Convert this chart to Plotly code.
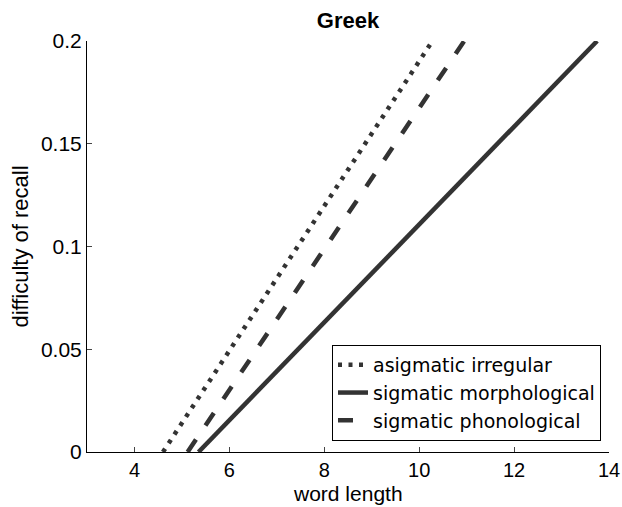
import plotly.graph_objects as go

series_names = ["asigmatic irregular", "sigmatic morphological", "sigmatic phonological"]
x_start = [4.60, 5.35, 5.12]
x_end = [10.28, 13.75, 10.95]
y_start = [0.0, 0.0, 0.0]
y_end = [0.2, 0.2, 0.2]
dashes = ["4px,6.5px", "solid", "15px,17px"]

x_ticks = [4, 6, 8, 10, 12, 14]
y_ticks = [0, 0.05, 0.1, 0.15, 0.2]
y_tick_labels = ["0", "0.05", "0.1", "0.15", "0.2"]

fig = go.Figure()
for name, xs, xe, ys, ye, d in zip(series_names, x_start, x_end, y_start, y_end, dashes):
    fig.add_trace(go.Scatter(
        x=[xs, xe], y=[ys, ye], mode="lines", name=name,
        line=dict(color="#333333", width=4.5, dash=d),
    ))

W, H = 622, 507
L, T, R, B = 87, 41, 13, 55
PW, PH = W - L - R, H - T - B
font = "Liberation Sans, Arial, Helvetica, sans-serif"
fig.update_layout(
    width=W, height=H,
    margin=dict(l=L, r=R, t=T, b=B, autoexpand=False),
    paper_bgcolor="white", plot_bgcolor="white",
    font=dict(family=font, size=22, color="black"),
    title=dict(text="<b>Greek</b>", x=0.5, xanchor="center", xref="paper",
               y=1 - 20 / H, yanchor="middle", font=dict(size=22)),
    showlegend=True,
    legend=dict(x=(601 - L) / PW, xanchor="right", y=11 / PH, yanchor="bottom",
                bordercolor="black", borderwidth=1, bgcolor="white",
                font=dict(family="DejaVu Sans", size=19), tracegroupgap=0),
    xaxis=dict(range=[3, 14], tickvals=x_ticks, ticks="inside", ticklen=5,
               showline=True, linecolor="black", linewidth=1, mirror=False,
               showgrid=False, zeroline=False, automargin=False,
               tickfont=dict(size=20)),
    yaxis=dict(range=[0, 0.2], tickvals=y_ticks, ticktext=y_tick_labels, ticks="inside",
               ticklen=5, showline=True, linecolor="black", linewidth=1, mirror=False,
               showgrid=False, zeroline=False, automargin=False,
               title=dict(text="difficulty of recall", standoff=6, font=dict(size=22)),
               tickfont=dict(size=21)),
    annotations=[dict(text="word length", xref="paper", yref="paper", x=0.5,
                      y=-(493 - (T + PH)) / PH, borderpad=0,
                      xanchor="center", yanchor="middle", showarrow=False,
                      font=dict(size=21))],
)

fig.write_html("out.html", config={"displayModeBar": False},
               post_script="document.body.style.margin='0';")
